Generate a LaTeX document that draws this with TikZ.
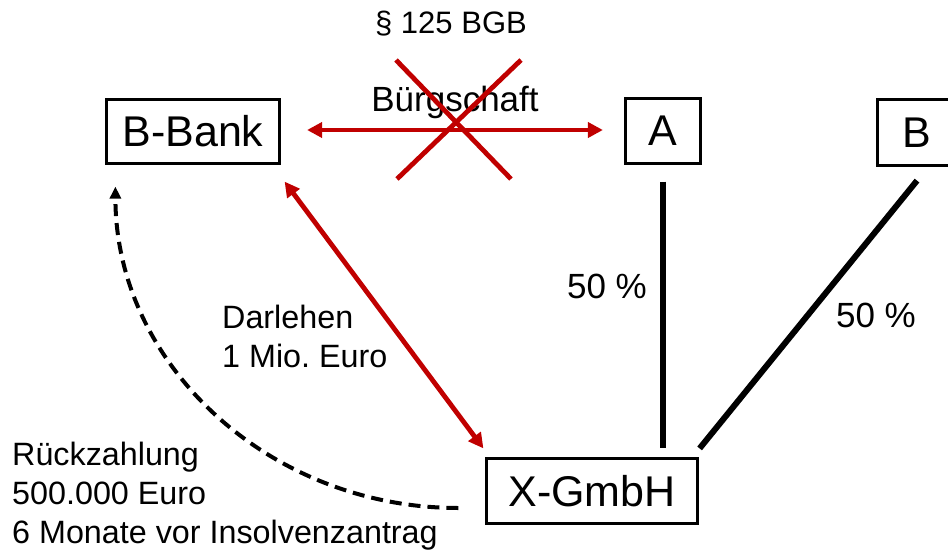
\documentclass[tikz,border=0pt]{standalone}
\usepackage{fontspec}
\setmainfont{Liberation Sans}
\usetikzlibrary{arrows.meta,calc}
\definecolor{deepred}{HTML}{C00000}
\frenchspacing

\begin{document}
\begin{tikzpicture}[x=1pt,y=-1pt,
  party/.style={draw, line width=3.2pt, inner sep=0pt, font=\fontsize{43}{50}\selectfont},
  redarrow/.style={draw=deepred, line width=4.8pt,
    {Triangle[length=15pt,width=15pt]}-{Triangle[length=15pt,width=15pt]}},
  share/.style={draw, line width=6pt},
  cross/.style={draw=deepred, line width=4.8pt},
  payment/.style={draw, line width=4pt, dash pattern=on 12pt off 7pt,
    -{Triangle[length=12pt,width=11pt]}},
  smalltext/.style={inner sep=0pt, font=\fontsize{32.3}{39}\selectfont},
  midtext/.style={inner sep=0pt, font=\fontsize{35}{42}\selectfont}]
\useasboundingbox (0,0) rectangle (948,554);

% parties
\node[party, minimum width=173pt, minimum height=64pt] (bank) at (193,131.5) {B-Bank};
\node[party, minimum width=75pt, minimum height=65pt] (A) at (663,131) {A};
\node[party, minimum width=79pt, minimum height=66pt] (B) at (917,132.5) {B};
\node[party, minimum width=211pt, minimum height=65pt] (X) at (592,491) {X-GmbH};

% guarantee between bank and A, struck out
\node[smalltext, font=\fontsize{31}{38}\selectfont, anchor=base] (para) at (451,33) {§ 125 BGB};
\node[midtext, anchor=base] (buerg) at (455,111) {Bürgschaft};
\draw[redarrow] ($(bank.east)+(26,-1.5)$) -- ($(A.west)+(-21,-1)$);
\draw[cross] (396,60) -- (511,179);
\draw[cross] (521,60) -- (397,179);

% shareholdings
\draw[share, shorten <=16.5pt, shorten >=8.5pt] (A.south) -- (A.south |- X.north);
\draw[share] ($(B.south)+(0,13.5)$) -- ($(X.north east)+(0.5,-8.5)$);
\node[midtext, anchor=base] (shareA) at (607,298) {50 \%};
\node[midtext, anchor=base] (shareB) at (876,327) {50 \%};

% loan
\draw[redarrow] ($(bank.south east)+(3.5,16.5)$) -- ($(X.north west)+(-1.5,-8.5)$);
\node[smalltext, anchor=base west, align=left] (loan) at (222,367) {Darlehen\\1 Mio. Euro};

% repayment
\draw[payment] ($(X.west)+(-26.5,17)$) .. controls +(-189,0) and +(0,178) .. ($(bank.south west)+(10.5,21.5)$);
\node[smalltext, anchor=base west, align=left] (repay) at (12,543) {Rückzahlung\\500.000 Euro\\6 Monate vor Insolvenzantrag};
\end{tikzpicture}
\end{document}
